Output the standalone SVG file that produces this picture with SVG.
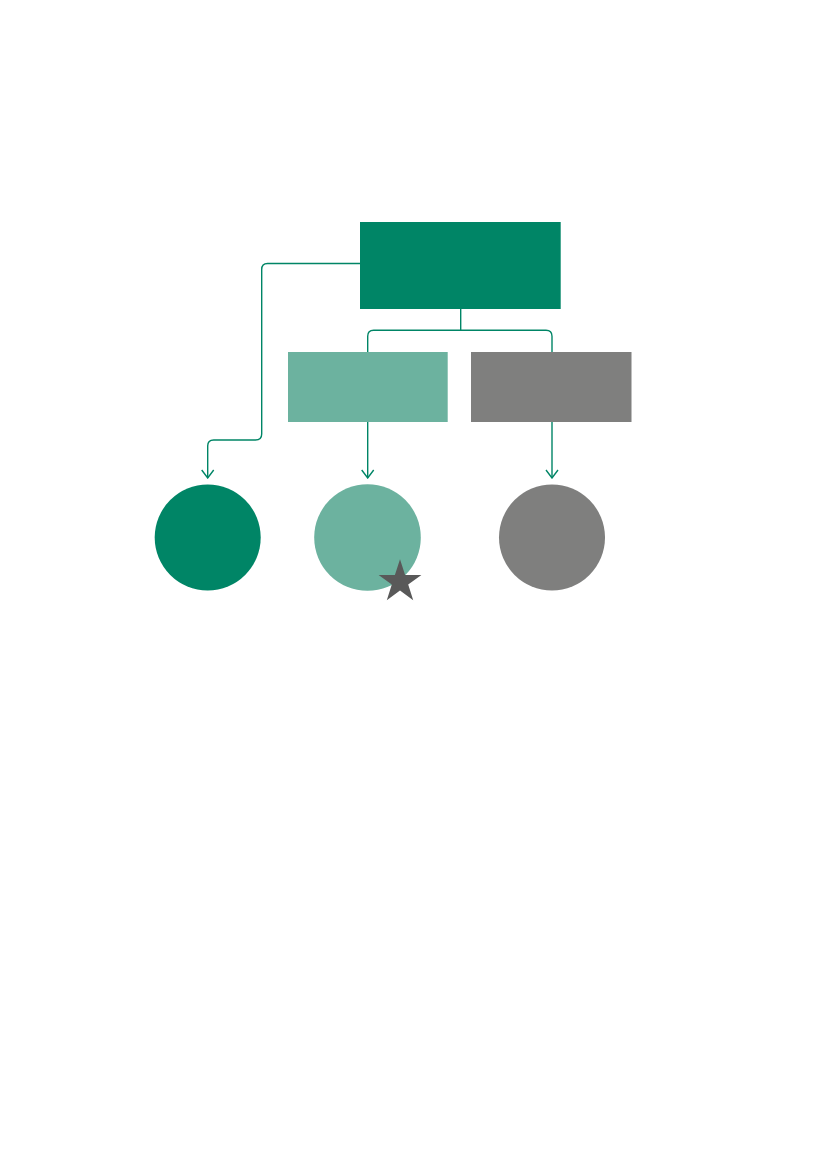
<svg xmlns="http://www.w3.org/2000/svg" width="827" height="1169" viewBox="0 0 827 1169">
  <style>
    .conn { fill: none; stroke: #008566; stroke-width: 1.4; }
    .dark { fill: #008566; }
    .light { fill: #6cb29f; }
    .grey { fill: #7f7f7e; }
  </style>
  <defs>
    <marker id="arrow" viewBox="0 0 10 14" refX="9" refY="7" markerWidth="10" markerHeight="14" markerUnits="userSpaceOnUse" orient="auto">
      <path d="M1,1 L9,7 L1,13" fill="none" stroke="#008566" stroke-width="1.4"/>
    </marker>
  </defs>
  <rect width="827" height="1169" fill="#ffffff"/>
  <g id="connectors">
    <path class="conn" d="M360,263.5 H267.5 Q261.7,263.5 261.7,269.5 V434 Q261.7,440 255.5,440 H213.7 Q207.7,440 207.7,446 V478" marker-end="url(#arrow)"/>
    <path class="conn" d="M460.7,309 V330.3"/>
    <path class="conn" d="M367.7,352 V336.3 Q367.7,330.3 373.7,330.3 H546 Q552,330.3 552,336.3 V352"/>
    <path class="conn" d="M367.7,422 V478" marker-end="url(#arrow)"/>
    <path class="conn" d="M552,422 V478" marker-end="url(#arrow)"/>
  </g>
  <g id="top-box">
    <rect class="dark" x="360" y="222" width="200.7" height="87"/>
  </g>
  <g id="mid-box">
    <rect class="light" x="288" y="352" width="159.7" height="70"/>
  </g>
  <g id="grey-box">
    <rect class="grey" x="471" y="352" width="160.5" height="70"/>
  </g>
  <g id="circle-dark">
    <circle class="dark" cx="207.7" cy="537.5" r="53"/>
  </g>
  <g id="circle-light">
    <circle class="light" cx="367.5" cy="537.5" r="53.3"/>
  </g>
  <g id="circle-grey">
    <circle class="grey" cx="552" cy="537.5" r="53"/>
  </g>
  <g id="star">
    <polygon fill="#595959" points="400,559.3 405.1,574.9 421.4,574.9 408.2,584.6 413.2,600.2 400,590.5 386.8,600.2 391.8,584.6 378.6,574.9 394.9,574.9"/>
  </g>
</svg>
